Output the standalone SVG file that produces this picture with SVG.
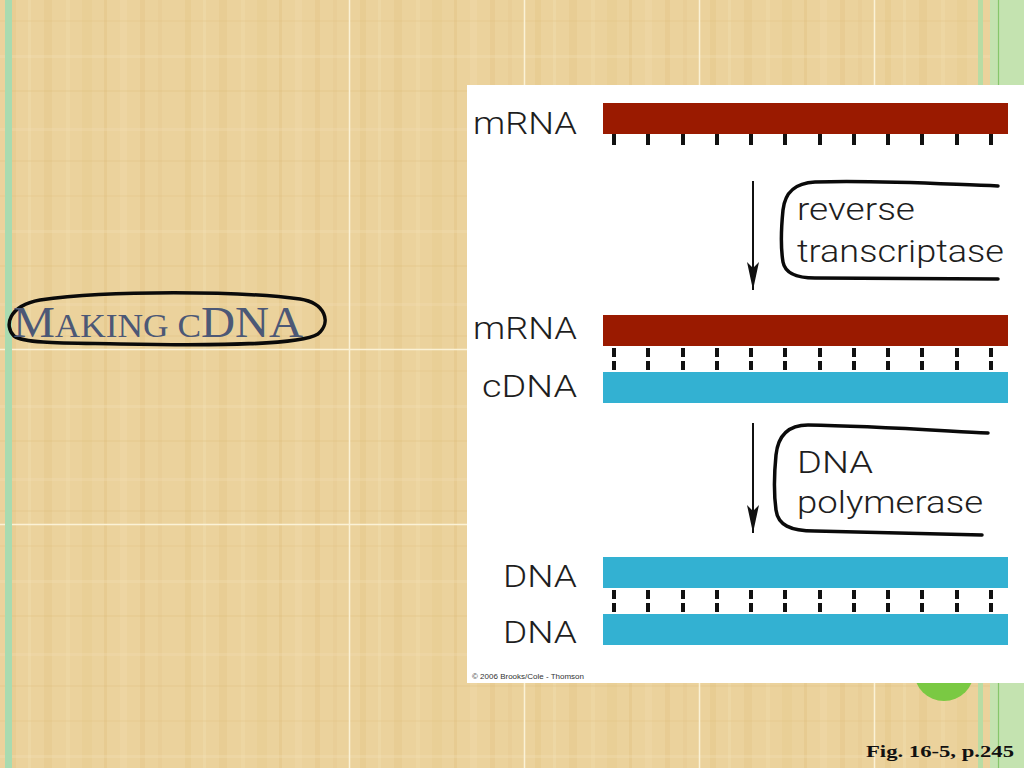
<svg xmlns="http://www.w3.org/2000/svg" width="1024" height="768" viewBox="0 0 1024 768">
<defs>
<pattern id="papyrus" x="0" y="0" width="175" height="175" patternUnits="userSpaceOnUse">
<rect width="175" height="175" fill="#ebd29c"/>
<rect x="10" y="0" width="6" height="175" fill="#d9b66c" opacity="0.18"/>
<rect x="28" y="0" width="3" height="175" fill="#f4e2b8" opacity="0.3"/>
<rect x="44" y="0" width="8" height="175" fill="#d6b064" opacity="0.15"/>
<rect x="66" y="0" width="4" height="175" fill="#f2deb0" opacity="0.3"/>
<rect x="82" y="0" width="10" height="175" fill="#dcbb74" opacity="0.15"/>
<rect x="104" y="0" width="3" height="175" fill="#d4ad60" opacity="0.18"/>
<rect x="120" y="0" width="7" height="175" fill="#f3e0b4" opacity="0.25"/>
<rect x="140" y="0" width="5" height="175" fill="#d8b468" opacity="0.18"/>
<rect x="158" y="0" width="4" height="175" fill="#e0c080" opacity="0.2"/>
<rect x="0" y="20" width="175" height="2" fill="#dcbc78" opacity="0.18"/>
<rect x="0" y="55" width="175" height="3" fill="#f4e4bc" opacity="0.25"/>
<rect x="0" y="90" width="175" height="2" fill="#d8b66e" opacity="0.18"/>
<rect x="0" y="128" width="175" height="3" fill="#f2e0b6" opacity="0.25"/>
<rect x="0" y="160" width="175" height="2" fill="#dab872" opacity="0.18"/>
</pattern>
<marker id="arrowhead" viewBox="0 0 28 12" refX="28" refY="6" markerWidth="28" markerHeight="12" markerUnits="userSpaceOnUse" orient="auto">
<path d="M0,0 L6,6 L0,12 L28,6 Z" fill="#111"/>
</marker>
</defs>
<style>
.lbl{font-family:"Roboto","Liberation Sans","Arial",sans-serif;font-weight:300;font-size:31px;fill:#1e1e1e;}
.tick{stroke:#111;stroke-width:4;}
.hand{fill:none;stroke:#0a0a0a;stroke-width:3.5;stroke-linecap:round;stroke-linejoin:round;}
.rna{fill:#9a1a00;}
.dna{fill:#33b1d2;}
</style>

<g id="background">
<rect width="1024" height="768" fill="url(#papyrus)"/>
<g stroke="#fbf2d6" stroke-width="1.5">
<line x1="349.5" y1="0" x2="349.5" y2="768"/>
<line x1="524.5" y1="0" x2="524.5" y2="768"/>
<line x1="699.5" y1="0" x2="699.5" y2="768"/>
<line x1="874.5" y1="0" x2="874.5" y2="768"/>
<line x1="0" y1="349.5" x2="1024" y2="349.5"/>
<line x1="0" y1="524.5" x2="1024" y2="524.5"/>
</g>
<rect x="5" y="0" width="7" height="768" fill="#a9dbb0"/>
<rect x="978" y="0" width="5" height="768" fill="#b8dca4"/>
<rect x="990" y="0" width="34" height="768" fill="#c4e3b0"/>
<line x1="998.5" y1="0" x2="998.5" y2="768" stroke="#86c66a" stroke-width="1.2"/>
<circle cx="944" cy="671" r="30" fill="#7ac943"/>
</g>

<g id="title">
<path class="hand" d="M40,300 C110,290 240,291 300,299 C325,303 332,322 318,334 C300,345 220,346 120,344 C70,343 25,344 14,336 C4,326 8,306 40,300 Z" stroke-width="4"/>
<text x="13" y="337" font-family="'Liberation Serif','Times New Roman',serif" fill="#4c5876" textLength="290" lengthAdjust="spacingAndGlyphs"><tspan font-size="44">M</tspan><tspan font-size="33">AKING C</tspan><tspan font-size="44">DNA</tspan></text>
</g>

<g id="figure-panel">
<rect x="467" y="85" width="557" height="598" fill="#ffffff"/>
<text x="472" y="679" font-family="'Liberation Sans',Arial,sans-serif" font-size="8" fill="#333" textLength="112" lengthAdjust="spacingAndGlyphs">© 2006 Brooks/Cole - Thomson</text>
</g>

<g id="strand-mrna-1">
<text class="lbl" x="473" y="134" textLength="104" lengthAdjust="spacingAndGlyphs">mRNA</text>
<rect class="rna" x="603" y="103" width="405" height="31"/>
<g class="tick">
<line x1="614" y1="134" x2="614" y2="145"/><line x1="648" y1="134" x2="648" y2="145"/><line x1="683" y1="134" x2="683" y2="145"/><line x1="717" y1="134" x2="717" y2="145"/><line x1="751" y1="134" x2="751" y2="145"/><line x1="785" y1="134" x2="785" y2="145"/><line x1="820" y1="134" x2="820" y2="145"/><line x1="854" y1="134" x2="854" y2="145"/><line x1="888" y1="134" x2="888" y2="145"/><line x1="922" y1="134" x2="922" y2="145"/><line x1="957" y1="134" x2="957" y2="145"/><line x1="991" y1="134" x2="991" y2="145"/>
</g>
</g>

<g id="enzyme-reverse-transcriptase">
<path class="hand" d="M998,186 C940,184 880,180 815,182 C795,183 785,192 783,210 C781,230 781,250 783,262 C785,273 795,278 815,278 L998,279"/>
<text class="lbl" x="797" y="220" textLength="118" lengthAdjust="spacingAndGlyphs">reverse</text>
<text class="lbl" x="797" y="262" textLength="207" lengthAdjust="spacingAndGlyphs">transcriptase</text>
</g>

<g id="strand-mrna-cdna">
<text class="lbl" x="473" y="339" textLength="104" lengthAdjust="spacingAndGlyphs">mRNA</text>
<text class="lbl" x="482" y="397" textLength="95" lengthAdjust="spacingAndGlyphs">cDNA</text>
<rect class="rna" x="603" y="315" width="405" height="31"/>
<rect class="dna" x="603" y="372" width="405" height="31"/>
<g class="tick" stroke-dasharray="9,4">
<line x1="614" y1="348" x2="614" y2="370"/><line x1="648" y1="348" x2="648" y2="370"/><line x1="683" y1="348" x2="683" y2="370"/><line x1="717" y1="348" x2="717" y2="370"/><line x1="751" y1="348" x2="751" y2="370"/><line x1="785" y1="348" x2="785" y2="370"/><line x1="820" y1="348" x2="820" y2="370"/><line x1="854" y1="348" x2="854" y2="370"/><line x1="888" y1="348" x2="888" y2="370"/><line x1="922" y1="348" x2="922" y2="370"/><line x1="957" y1="348" x2="957" y2="370"/><line x1="991" y1="348" x2="991" y2="370"/>
</g>
</g>

<g id="enzyme-dna-polymerase">
<path class="hand" d="M988,433 C930,430 870,426 808,425 C788,425 778,436 776,455 C774,475 774,495 776,510 C778,525 790,531 815,531 L982,535"/>
<text class="lbl" x="797" y="473" textLength="76" lengthAdjust="spacingAndGlyphs">DNA</text>
<text class="lbl" x="797" y="513" textLength="186" lengthAdjust="spacingAndGlyphs">polymerase</text>
</g>

<g id="strand-dna-dna">
<text class="lbl" x="503" y="587" textLength="74" lengthAdjust="spacingAndGlyphs">DNA</text>
<text class="lbl" x="503" y="643" textLength="74" lengthAdjust="spacingAndGlyphs">DNA</text>
<rect class="dna" x="603" y="557" width="405" height="31"/>
<rect class="dna" x="603" y="614" width="405" height="31"/>
<g class="tick" stroke-dasharray="9,4">
<line x1="614" y1="590" x2="614" y2="612"/><line x1="648" y1="590" x2="648" y2="612"/><line x1="683" y1="590" x2="683" y2="612"/><line x1="717" y1="590" x2="717" y2="612"/><line x1="751" y1="590" x2="751" y2="612"/><line x1="785" y1="590" x2="785" y2="612"/><line x1="820" y1="590" x2="820" y2="612"/><line x1="854" y1="590" x2="854" y2="612"/><line x1="888" y1="590" x2="888" y2="612"/><line x1="922" y1="590" x2="922" y2="612"/><line x1="957" y1="590" x2="957" y2="612"/><line x1="991" y1="590" x2="991" y2="612"/>
</g>
</g>

<g id="connectors">
<line x1="753" y1="181" x2="753" y2="290" stroke="#111" stroke-width="2" marker-end="url(#arrowhead)"/>
<line x1="753" y1="423" x2="753" y2="533" stroke="#111" stroke-width="2" marker-end="url(#arrowhead)"/>
</g>

<g id="caption">
<text x="1014" y="757" text-anchor="end" font-family="'Liberation Serif','Times New Roman',serif" font-weight="bold" font-size="17" fill="#111" textLength="148" lengthAdjust="spacingAndGlyphs">Fig. 16-5, p.245</text>
</g>
</svg>
